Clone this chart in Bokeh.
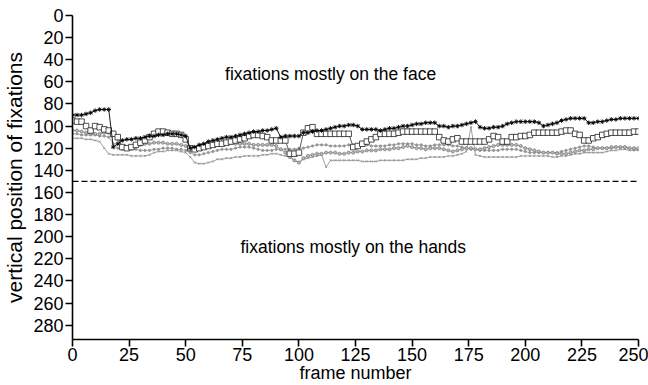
from bokeh.plotting import figure
from bokeh.models import Range1d, Span, FixedTicker, Label
from bokeh.embed import file_html
from bokeh.resources import INLINE

frames = list(range(0, 251, 2))

stars = [90, 90, 90, 89, 88, 86, 85, 85, 85, 119,
         116, 113, 112, 112, 111, 111, 110, 109, 109, 108,
         108, 107, 107, 107, 108, 109, 120, 119, 117, 116,
         114, 113, 112, 111, 110, 110, 109, 108, 107, 106,
         105, 105, 104, 104, 103, 102, 110, 109, 109, 109,
         109, 106, 106, 105, 104, 104, 103, 102, 101, 100,
         100, 99, 99, 100, 103, 103, 103, 103, 104, 103,
         102, 102, 101, 100, 100, 99, 98, 98, 97, 97,
         97, 100, 100, 101, 100, 100, 99, 98, 97, 96,
         101, 102, 102, 101, 101, 100, 98, 97, 96, 96,
         96, 96, 96, 97, 100, 99, 98, 97, 95, 94,
         93, 93, 93, 93, 97, 97, 96, 96, 95, 94,
         94, 93, 93, 93, 93, 93]

squares = [95, 96, 96, 100, 104, 100, 101, 103, 104, 107,
           110, 119, 120, 119, 117, 115, 113, 110, 107, 105,
           105, 106, 107, 107, 108, 112, 120, 121, 120, 119,
           118, 117, 116, 116, 115, 114, 113, 112, 111, 109,
           108, 108, 109, 110, 113, 113, 113, 113, 125, 125,
           124, 106, 102, 101, 107, 107, 107, 107, 107, 107,
           107, 107, 119, 118, 116, 114, 112, 110, 107, 107,
           107, 107, 106, 105, 105, 105, 105, 105, 105, 105,
           105, 110, 113, 114, 112, 111, 114, 114, 114, 114,
           114, 114, 112, 109, 110, 114, 114, 110, 110, 109,
           109, 108, 106, 106, 106, 106, 106, 106, 105, 104,
           104, 107, 108, 113, 113, 111, 110, 108, 107, 106,
           106, 106, 106, 106, 105, 105]

circles = [104, 104, 105, 106, 107, 107, 107, 106, 106, 106,
           112, 119, 119, 118, 118, 117, 116, 116, 115, 115,
           115, 116, 116, 116, 117, 118, 120, 121, 120, 119,
           118, 117, 116, 115, 115, 115, 116, 116, 116, 116,
           117, 117, 117, 117, 117, 118, 121, 124, 128, 131,
           133, 129, 127, 126, 125, 125, 124, 124, 124, 125,
           125, 124, 124, 123, 123, 122, 122, 122, 121, 121,
           121, 120, 120, 119, 118, 119, 120, 120, 121, 120,
           120, 120, 121, 122, 123, 122, 121, 120, 120, 121,
           121, 120, 119, 118, 117, 117, 117, 117, 117, 118,
           120, 121, 122, 123, 124, 124, 124, 125, 125, 125,
           124, 123, 122, 122, 121, 121, 120, 120, 120, 119,
           119, 119, 119, 120, 120, 120]

crosses = [111, 111, 111, 112, 112, 113, 114, 120, 125, 126,
           126, 126, 126, 127, 127, 127, 127, 126, 124, 123,
           123, 122, 122, 122, 123, 124, 128, 133, 134, 134,
           133, 132, 130, 130, 129, 129, 128, 128, 127, 127,
           127, 127, 126, 126, 125, 125, 126, 127, 127, 131,
           133, 130, 129, 128, 127, 126, 137, 131, 131, 131,
           131, 131, 131, 131, 132, 132, 132, 132, 131, 131,
           131, 131, 131, 131, 130, 130, 130, 129, 129, 128,
           128, 128, 128, 127, 127, 126, 125, 123, 101, 126,
           127, 128, 128, 128, 128, 128, 128, 128, 128, 127,
           127, 127, 127, 127, 127, 127, 128, 128, 127, 127,
           126, 125, 125, 124, 124, 124, 124, 124, 123, 122,
           122, 121, 121, 122, 122, 122]

dots = [107, 107, 108, 108, 108, 108, 109, 109, 110, 116,
        120, 121, 121, 121, 121, 122, 122, 122, 121, 121,
        120, 120, 120, 121, 121, 122, 124, 126, 126, 125,
        124, 123, 122, 121, 121, 121, 120, 119, 119, 119,
        120, 121, 122, 122, 122, 121, 121, 121, 121, 121,
        120, 120, 119, 118, 117, 117, 117, 118, 118, 118,
        118, 117, 117, 117, 117, 117, 118, 118, 118, 118,
        117, 117, 116, 116, 116, 116, 117, 117, 118, 118,
        117, 117, 117, 117, 118, 118, 119, 120, 121, 121,
        122, 122, 122, 122, 122, 121, 121, 121, 121, 122,
        123, 124, 124, 124, 124, 124, 124, 124, 123, 122,
        121, 120, 119, 118, 118, 119, 120, 120, 120, 120,
        119, 119, 119, 120, 121, 121]

y_ticks = list(range(0, 281, 20))
x_ticks = list(range(0, 251, 25))
threshold = 150
notes = ["fixations mostly on the face", "fixations mostly on the hands"]
note_x = [114, 124]
note_y = [53, 209]

FONT = "Liberation Sans"

p = figure(width=648, height=385, output_backend="svg", toolbar_location=None,
           x_range=Range1d(0, 250), y_range=Range1d(293, 0),
           min_border_left=72, min_border_right=10, min_border_top=15, min_border_bottom=42)
p.outline_line_color = None
p.xgrid.visible = False
p.ygrid.visible = False

for ax in (p.xaxis[0], p.yaxis[0]):
    ax.axis_line_width = 1.6
    ax.axis_line_color = "black"
    ax.major_tick_line_width = 1.6
    ax.major_tick_out = 7
    ax.major_tick_in = 0
    ax.minor_tick_line_color = None
    ax.major_label_text_font = FONT
    ax.major_label_text_font_size = "18px"
    ax.major_label_text_color = "black"
    ax.axis_label_text_font = FONT
    ax.axis_label_text_font_style = "normal"
    ax.axis_label_text_color = "black"

p.xaxis.axis_label_text_font_size = "18px"
p.yaxis.axis_label_text_font_size = "21px"
p.xaxis.ticker = FixedTicker(ticks=x_ticks)
p.yaxis.ticker = FixedTicker(ticks=y_ticks)
p.xaxis.axis_label = "frame number"
p.yaxis.axis_label = "vertical position of fixations"
p.xaxis.major_label_standoff = 1
p.xaxis.axis_label_standoff = -1
p.yaxis.major_label_standoff = 2
p.yaxis.axis_label_standoff = 4

p.add_layout(Span(location=threshold, dimension="width", line_color="black",
                  line_width=1.2, line_dash="6 3"))

# lower gray series
p.line(frames, crosses, line_color="#8a8a8a", line_width=0.8)
p.scatter(frames, crosses, marker="x", size=3, line_color="#8a8a8a", line_width=0.7)
p.line(frames, dots, line_color="#959595", line_width=0.8)
p.scatter(frames, dots, marker="circle", size=2.2, fill_color="#959595", line_color="#959595")
p.line(frames, circles, line_color="#7a7a7a", line_width=0.8)
p.scatter(frames, circles, marker="circle", size=3.2, fill_color="#b8b8b8", line_color="#707070", line_width=0.6)
# squares
p.line(frames, squares, line_color="#333333", line_width=0.8)
p.scatter(frames, squares, marker="square", size=5.5, fill_color="white", line_color="#222222", line_width=0.8)
# stars
p.line(frames, stars, line_color="black", line_width=0.9)
p.scatter(frames, stars, marker="asterisk", size=4.5, line_color="black", line_width=0.9)

for t, xx, yy in zip(notes, note_x, note_y):
    p.add_layout(Label(x=xx, y=yy, text=t, text_font=FONT, text_font_size="17.5px",
                       text_align="center", text_baseline="middle", text_color="black"))

open("out.html", "w").write(file_html(p, INLINE))
